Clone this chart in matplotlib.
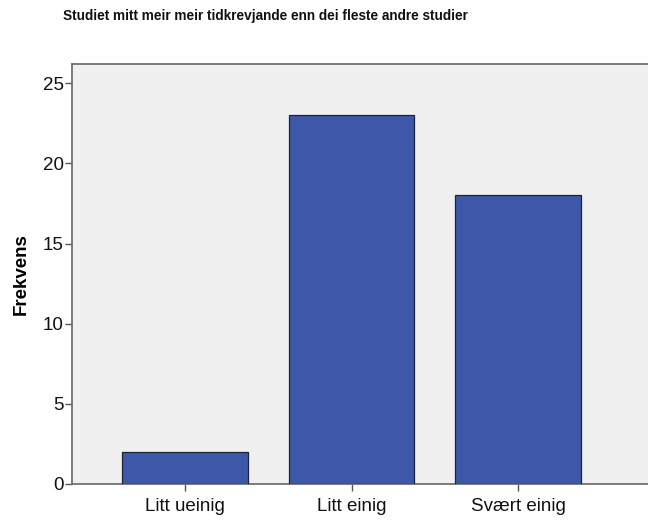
import matplotlib.pyplot as plt

# data
categories = ["Litt ueinig", "Litt einig", "Svært einig"]
counts = [2, 23, 18]
yticks = [0, 5, 10, 15, 20, 25]

plt.rcParams['font.family'] = ['Liberation Sans', 'DejaVu Sans']

fig = plt.figure(figsize=(6.48, 5.2), dpi=100)
ax = fig.add_axes([72 / 648, 36 / 520, (660 - 72) / 648, 420 / 520])
ax.set_facecolor('#F0F0F0')

x = list(range(len(categories)))
ax.bar(x, counts, width=0.754, color='#3E58A9', edgecolor='#1C2233', linewidth=0.9, zorder=3)

ax.set_xlim(-0.68, -0.68 + 588 / 166.5)
ax.set_ylim(0, 26.2)
ax.set_yticks(yticks)
ax.set_xticks(x)
ax.set_xticklabels(categories)

for s in ['top', 'bottom', 'left', 'right']:
    ax.spines[s].set_color('#666666')
    ax.spines[s].set_linewidth(1.2)

ax.tick_params(axis='both', direction='out', length=5, width=1, color='#555555',
               labelsize=13.5, labelcolor='#111111', pad=1)
ax.tick_params(axis='x', pad=5)

ax.set_ylabel('Frekvens', fontsize=13.5, fontweight='bold', labelpad=9)

fig.text(265 / 648, 1 - 16 / 520, 'Studiet mitt meir meir tidkrevjande enn dei fleste andre studier',
         ha='center', va='center', fontsize=9.8, fontweight='bold', color='#111111')

fig.savefig('out.png', dpi=100)
